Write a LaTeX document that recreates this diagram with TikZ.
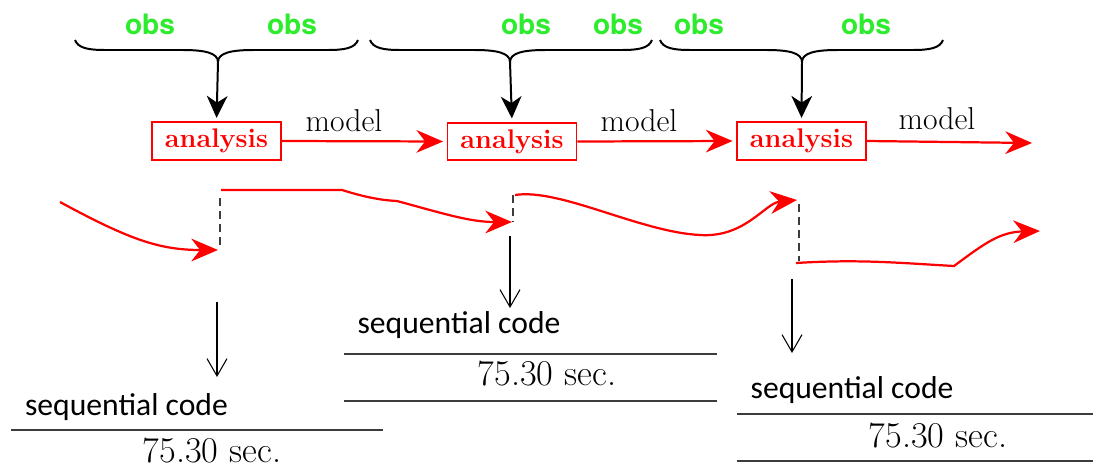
\documentclass[tikz,border=0pt]{standalone}
\usepackage{fontspec}
\newfontfamily\calibrifont{Carlito}
\newfontfamily\herosfont{TeX Gyre Heros}
\usetikzlibrary{arrows.meta}
\definecolor{obsgreen}{RGB}{45,235,45}
\definecolor{dgray}{RGB}{60,60,60}
\tikzset{
  anabox/.style={draw=red, line width=1.5pt, text=red, inner sep=0pt,
    minimum width=3.87cm, minimum height=1.12cm,
    font=\bfseries\fontsize{23}{26}\selectfont},
  obslbl/.style={text=obsgreen, anchor=base, inner sep=0pt,
    font=\herosfont\bfseries\fontsize{24}{27}\selectfont},
  modellbl/.style={anchor=base, inner sep=0pt, font=\fontsize{27}{30}\selectfont},
  seqlbl/.style={anchor=base, inner sep=0pt, font=\calibrifont\fontsize{27}{30}\selectfont},
  timelbl/.style={anchor=base, inner sep=0pt, font=\fontsize{31}{34}\selectfont},
  redarrow/.style={draw=red, line width=1.9pt,
    -{Stealth[length=0.8cm,width=0.68cm,inset=0.26cm]}},
  bracepath/.style={draw=black, line width=1.7pt},
  bracearrow/.style={draw=black, line width=1.7pt,
    -{Stealth[length=0.66cm,width=0.62cm,inset=0.2cm]}},
  thinarrow/.style={draw=black, line width=0.9pt,
    -{Straight Barb[length=0.52cm,width=0.6cm]}},
  rule/.style={draw=dgray, line width=1.1pt},
  cut/.style={draw=dgray, line width=2pt, dash pattern=on 7pt off 4pt}
}
\begin{document}
\begin{tikzpicture}[x=0.03cm, y=-0.03cm]
\useasboundingbox (0,0) rectangle (1093,472);

% analysis boxes
\node[anabox] (b1) at (216.5,141) {analysis};
\node[anabox] (b2) at (512,141.5) {analysis};
\node[anabox] (b3) at (801.5,141) {analysis};
\coordinate (e3) at (1032,143);

% model arrows
\draw[redarrow, shorten >=3pt] (b1.east) -- (b2.west);
\draw[redarrow, shorten >=3pt] (b2.east) -- (b3.west);
\draw[redarrow] (b3.east) -- (e3);
\node[modellbl] (m1) at (344,131) {model};
\node[modellbl] (m2) at (639,131) {model};
\node[modellbl] (m3) at (937,129) {model};

% obs labels
\node[obslbl] (o1) at (150,34) {obs};
\node[obslbl] (o2) at (292,34) {obs};
\node[obslbl] (o3) at (526,34) {obs};
\node[obslbl] (o4) at (618,34) {obs};
\node[obslbl] (o5) at (699,34) {obs};
\node[obslbl] (o6) at (866,34) {obs};

% braces
\coordinate (t1) at (218,62);
\coordinate (t2) at (510,62);
\coordinate (t3) at (802,62);
\draw[bracepath] (75,40) .. controls (78,48) and (88,50) .. (105,50) -- (183,50)
  .. controls (205,50) and (218,53) .. (t1) .. controls (218,53) and (231,50) .. (253,50)
  -- (328,50) .. controls (345,50) and (355,48) .. (358,40);
\draw[bracepath] (370,40) .. controls (373,48) and (383,50) .. (400,50) -- (475,50)
  .. controls (497,50) and (510,53) .. (t2) .. controls (510,53) and (523,50) .. (545,50)
  -- (622,50) .. controls (639,50) and (649,48) .. (652,40);
\draw[bracepath] (660,40) .. controls (663,48) and (673,50) .. (690,50) -- (767,50)
  .. controls (789,50) and (802,53) .. (t3) .. controls (802,53) and (815,50) .. (837,50)
  -- (913,50) .. controls (930,50) and (940,48) .. (943,40);
\draw[bracearrow, shorten >=3pt] (t1) -- (b1.north);
\draw[bracearrow, shorten >=3pt] (t2) -- (b2.north);
\draw[bracearrow, shorten >=3pt] (t3) -- (b3.north);

% trajectory curves
\coordinate (s1) at (60,202);
\coordinate (a1) at (218,250);
\draw[redarrow] (s1) .. controls (130,240) and (160,250) .. (a1);
\coordinate (d1t) at (220,198);
\coordinate (d1b) at (220,246);
\draw[cut] (d1t) -- (d1b);

\coordinate (s2) at (221,190);
\coordinate (a2) at (512,222);
\draw[redarrow] (s2) -- (342,190) .. controls (355,194) and (375,200) .. (397,201)
  .. controls (445,214) and (470,222) .. (a2);
\coordinate (d2t) at (513,195);
\coordinate (d2b) at (513,221);
\draw[cut] (d2t) -- (d2b);

\coordinate (s3) at (515,195);
\coordinate (a3) at (797,200);
\draw[redarrow] (s3) .. controls (560,188) and (640,232) .. (700,235)
  .. controls (745,238) and (765,203) .. (a3);
\coordinate (d3t) at (799,204);
\coordinate (d3b) at (799,261);
\draw[cut] (d3t) -- (d3b);

\coordinate (s4) at (796,263);
\coordinate (a4) at (1040,231);
\draw[redarrow] (s4) .. controls (860,259) and (900,263) .. (954,266)
  .. controls (985,243) and (1000,232) .. (a4);

% down arrows
\coordinate (p1t) at (217,302);
\coordinate (p1b) at (217,377);
\coordinate (p2t) at (510,236);
\coordinate (p2b) at (510,308);
\coordinate (p3t) at (792,279);
\coordinate (p3b) at (792,353);
\draw[thinarrow] (p1t) -- (p1b);
\draw[thinarrow] (p2t) -- (p2b);
\draw[thinarrow] (p3t) -- (p3b);

% tables
\node[seqlbl] (q1) at (126.5,415) {sequential code};
\node[seqlbl] (q2) at (459,333) {sequential code};
\node[seqlbl] (q3) at (852,398) {sequential code};
\node[timelbl] (r1) at (212,462) {75.30 sec.};
\node[timelbl] (r2) at (547,385) {75.30 sec.};
\node[timelbl] (r3) at (938,447) {75.30 sec.};

\coordinate (l1a) at (11,430); \coordinate (l1b) at (383,430);
\coordinate (l2a) at (344,354); \coordinate (l2b) at (717,354);
\coordinate (l2c) at (344,401); \coordinate (l2d) at (717,401);
\coordinate (l3a) at (737,414); \coordinate (l3b) at (1093,414);
\coordinate (l3c) at (737,461); \coordinate (l3d) at (1093,461);
\draw[rule] (l1a) -- (l1b);
\draw[rule] (l2a) -- (l2b);
\draw[rule] (l2c) -- (l2d);
\draw[rule] (l3a) -- (l3b);
\draw[rule] (l3c) -- (l3d);
\end{tikzpicture}
\end{document}
